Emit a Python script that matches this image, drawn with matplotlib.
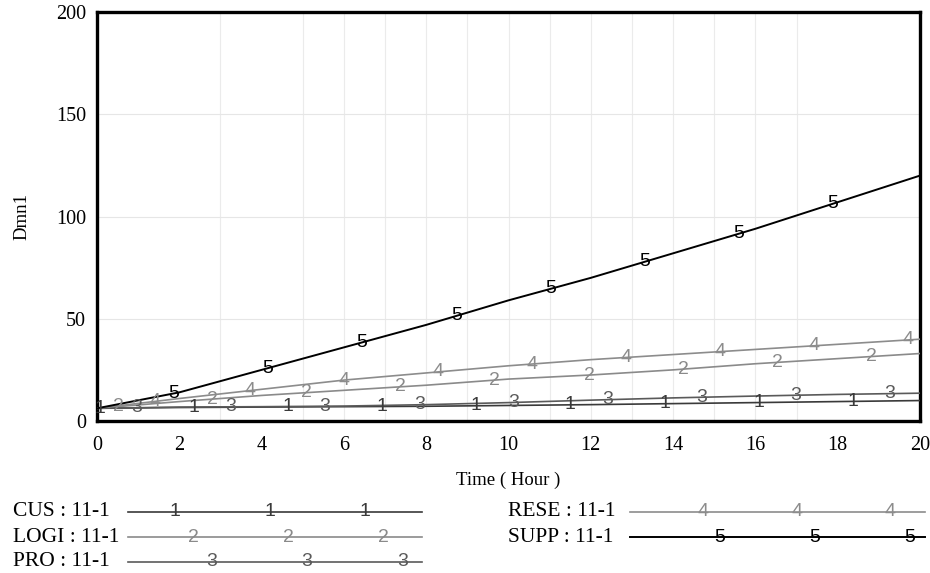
import numpy as np
import matplotlib
matplotlib.use("Agg")
import matplotlib.pyplot as plt
from matplotlib.lines import Line2D

# time axis (hours) and the five series
hours = [0, 2, 4, 6, 8, 10, 12, 14, 16, 18, 20]
cus = [6.2, 6.6, 6.8, 7.0, 7.2, 7.6, 8.0, 8.5, 9.0, 9.5, 10.0]
logi = [6.2, 9.5, 12.5, 15.0, 17.5, 20.5, 22.5, 25.0, 28.0, 30.5, 33.0]
pro = [6.2, 6.8, 7.0, 7.3, 8.0, 9.0, 10.2, 11.3, 12.2, 13.0, 13.6]
rese = [6.2, 11.0, 15.5, 20.0, 23.5, 27.0, 30.0, 32.5, 35.0, 37.5, 40.0]
supp = [6.2, 14.0, 25.0, 36.0, 47.0, 59.0, 70.0, 82.0, 94.0, 107.0, 120.0]

names = ["CUS : 11-1", "LOGI : 11-1", "PRO : 11-1", "RESE : 11-1", "SUPP : 11-1"]
x_ticks = [0, 2, 4, 6, 8, 10, 12, 14, 16, 18, 20]
y_ticks = [0, 50, 100, 150, 200]

colors = ["#3a3a3a", "#8a8a8a", "#5a5a5a", "#8c8c8c", "#000000"]
widths = [1.2, 1.2, 1.2, 1.2, 1.4]

serif = "Liberation Serif"
sans = "Liberation Sans"

fig = plt.figure(figsize=(9.3, 5.73), dpi=100)
ax = fig.add_axes([97 / 930, 1 - 421 / 573, 823 / 930, 409 / 573])

series = [cus, logi, pro, rese, supp]
for k, (vals, c, lw) in enumerate(zip(series, colors, widths)):
    ax.plot(hours, vals, color=c, lw=lw, zorder=3)
    # Vensim-style numbered markers along each line
    t_lab = np.arange(0.07 + 0.45 * k, 20.0, 2.287)
    for t in t_lab:
        v = np.interp(t, hours, vals)
        ax.text(t, v, str(k + 1), color=c, fontsize=14, family=sans,
                ha="center", va="center", zorder=4)

ax.set_xlim(0, 20)
ax.set_ylim(0, 200)
ax.set_xticks(x_ticks)
ax.set_yticks(y_ticks)
ax.tick_params(length=0, labelsize=14.5, pad=8)
for lab in ax.get_xticklabels() + ax.get_yticklabels():
    lab.set_family(serif)
ax.tick_params(axis="x", pad=11)

# faint grid
for g in [3, 5, 6, 7, 8, 9, 10, 11, 12, 13, 14, 15, 16, 17]:
    ax.axvline(g, color="#ebebeb", lw=0.8, zorder=1)
for g in [50, 100, 150]:
    ax.axhline(g, color="#e6e6e6", lw=0.8, zorder=1)

for sp in ax.spines.values():
    sp.set_linewidth(2.4)
    sp.set_color("black")

ax.set_xlabel("Time ( Hour )", family=serif, fontsize=13.5, labelpad=12)
ax.set_ylabel("Dmn1", family=serif, fontsize=13.5, labelpad=18)

# legend drawn in pixel coordinates under the chart
lg = fig.add_axes([0, 0, 1, 1], zorder=-1)
lg.set_xlim(0, 930)
lg.set_ylim(573, 0)
lg.axis("off")
leg_rows = [(13, 128, 422, 512), (13, 128, 422, 537), (13, 128, 422, 562),
            (508, 630, 925, 512), (508, 630, 925, 537)]
leg_nums = [[175, 270, 365], [193, 288, 383], [212, 307, 403],
            [703, 797, 890], [720, 815, 910]]
for k, ((tx, x0, x1, y), xs) in enumerate(zip(leg_rows, leg_nums)):
    lg.text(tx, y, names[k], family=serif, fontsize=15.5, ha="left", va="center")
    lg.add_line(Line2D([x0, x1], [y, y], color=colors[k], lw=widths[k]))
    for xn in xs:
        lg.text(xn, y, str(k + 1), color=colors[k], family=sans, fontsize=14,
                ha="center", va="center")

fig.savefig("out.png", dpi=100)
